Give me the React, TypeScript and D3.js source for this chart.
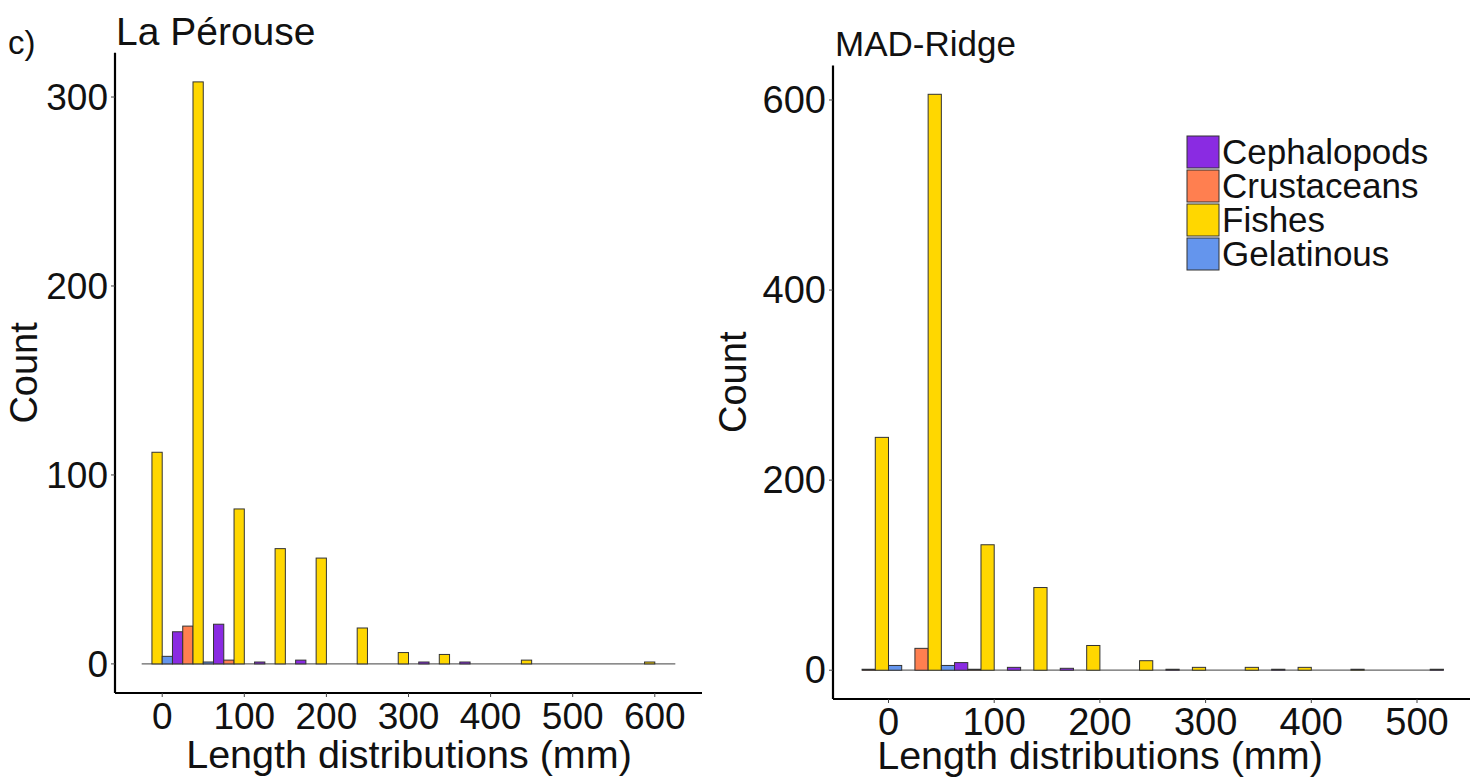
import * as d3 from "d3";

// legend / colour order (alphabetical, as in the legend)
const categories = ["Cephalopods", "Crustaceans", "Fishes", "Gelatinous"];
const colors = ["#8a2be2", "#ff7f50", "#ffd700", "#6495ed"];
// order of the dodged bars inside one bin, as drawn in the picture
const slotOrder = ["Crustaceans", "Fishes", "Gelatinous", "Cephalopods"];

const binWidth = 50;

// La Pérouse, bins centred on 0, 50, ... 600
const binsLP = [0, 50, 100, 150, 200, 250, 300, 350, 400, 450, 500, 550, 600];
const lpCephalopods = [17, 21, 1, 2, 0, 0, 1, 1, 0, 0, 0, 0, 0];
const lpCrustaceans = [0, 20, 2, 0, 0, 0, 0, 0, 0, 0, 0, 0, 0];
const lpFishes = [112, 308, 82, 61, 56, 19, 6, 5, 0, 2, 0, 0, 1];
const lpGelatinous = [4, 1, 0, 0, 0, 0, 0, 0, 0, 0, 0, 0, 0];

// MAD-Ridge, bins centred on 0, 50, ... 500
const binsMR = [0, 50, 100, 150, 200, 250, 300, 350, 400, 450, 500];
const mrCephalopods = [0, 8, 3, 2, 0, 1, 0, 1, 0, 0, 1];
const mrCrustaceans = [1, 23, 1, 0, 0, 0, 0, 0, 0, 0, 0];
const mrFishes = [245, 606, 132, 87, 26, 10, 3, 3, 3, 1, 0];
const mrGelatinous = [5, 5, 0, 0, 0, 0, 0, 0, 0, 0, 0];

const ticksLPx = [0, 100, 200, 300, 400, 500, 600];
const ticksLPy = [0, 100, 200, 300];
const ticksMRx = [0, 100, 200, 300, 400, 500];
const ticksMRy = [0, 200, 400, 600];

const FONT = "'Liberation Sans', Arial, sans-serif";
const color = d3.scaleOrdinal<string, string>().domain(categories).range(colors);

type PanelProps = {
  title: string;
  titleSize: number;
  tickSize: number;
  bins: number[];
  series: Record<string, number[]>;
  xDomain: [number, number];
  xRange: [number, number];
  yDomain: [number, number];
  yRange: [number, number];
  xTicks: number[];
  yTicks: number[];
  titleX: number;
  titleY: number;
  countX: number;
  xTitleX: number;
  xTitleY: number;
};

function Panel(p: PanelProps) {
  const x = d3.scaleLinear().domain(p.xDomain).range(p.xRange);
  const y = d3.scaleLinear().domain(p.yDomain).range(p.yRange);
  const slot = d3
    .scaleBand()
    .domain(slotOrder)
    .range([0, x(binWidth) - x(0)]);
  const x0 = p.xRange[0];
  const yBottom = p.yRange[0];
  const yTop = p.yRange[1];
  const first = p.bins[0] - binWidth / 2;
  const last = p.bins[p.bins.length - 1] + binWidth / 2;

  return (
    <g>
      <text x={p.titleX} y={p.titleY} fontSize={p.titleSize} fontFamily={FONT} fill="#111">
        {p.title}
      </text>
      {/* zero-height bins drawn as the base line */}
      <line x1={x(first)} x2={x(last)} y1={y(0)} y2={y(0)} stroke="#666" strokeWidth={1.2} />
      {p.bins.map((b, i) =>
        slotOrder.map((cat) => {
          const v = p.series[cat][i];
          if (!v) return null;
          const left = x(b - binWidth / 2) + (slot(cat) ?? 0);
          return (
            <rect
              key={cat + b}
              x={left}
              y={y(v)}
              width={slot.bandwidth()}
              height={y(0) - y(v)}
              fill={color(cat)}
              stroke="#333"
              strokeWidth={1}
            />
          );
        })
      )}
      {/* axes */}
      <line x1={x0} x2={p.xRange[1]} y1={yBottom} y2={yBottom} stroke="#000" strokeWidth={2.2} />
      <line x1={x0} x2={x0} y1={yTop} y2={yBottom} stroke="#000" strokeWidth={2.2} />
      {p.xTicks.map((t) => (
        <g key={"xt" + t}>
          <line x1={x(t)} x2={x(t)} y1={yBottom} y2={yBottom + 4} stroke="#444" />
          <text
            x={x(t)}
            y={yBottom + 36}
            textAnchor="middle"
            fontSize={p.tickSize}
            fontFamily={FONT}
            fill="#111"
          >
            {t}
          </text>
        </g>
      ))}
      {p.yTicks.map((t) => (
        <g key={"yt" + t}>
          <line x1={x0 - 4} x2={x0} y1={y(t)} y2={y(t)} stroke="#444" />
          <text
            x={x0 - 7}
            y={y(t) + 13}
            textAnchor="end"
            fontSize={p.tickSize}
            fontFamily={FONT}
            fill="#111"
          >
            {t}
          </text>
        </g>
      ))}
      <text
        x={p.xTitleX}
        y={p.xTitleY}
        textAnchor="middle"
        fontSize={39.5}
        fontFamily={FONT}
        fill="#111"
      >
        Length distributions (mm)
      </text>
      <text
        transform={`translate(${p.countX},${(yTop + yBottom) / 2}) rotate(-90)`}
        textAnchor="middle"
        fontSize={38}
        fontFamily={FONT}
        fill="#111"
      >
        Count
      </text>
    </g>
  );
}

export default function App() {
  return (
    <svg
      width={1470}
      height={780}
      style={{ position: "absolute", left: 0, top: 0, background: "#fff" }}
    >
      <rect width={1470} height={780} fill="#fff" />
      <text x={8} y={54} fontSize={33} fontFamily={FONT} fill="#111">
        c)
      </text>
      <Panel
        title="La Pérouse"
        titleSize={39}
        tickSize={37}
        bins={binsLP}
        series={{
          Cephalopods: lpCephalopods,
          Crustaceans: lpCrustaceans,
          Fishes: lpFishes,
          Gelatinous: lpGelatinous,
        }}
        xDomain={[-57.5, 657.5]}
        xRange={[115, 702]}
        yDomain={[-15.4, 323.4]}
        yRange={[693, 52.8]}
        xTicks={ticksLPx}
        yTicks={ticksLPy}
        titleX={116}
        titleY={45}
        countX={37}
        xTitleX={409}
        xTitleY={768}
      />
      <Panel
        title="MAD-Ridge"
        titleSize={35}
        tickSize={38}
        bins={binsMR}
        series={{
          Cephalopods: mrCephalopods,
          Crustaceans: mrCrustaceans,
          Fishes: mrFishes,
          Gelatinous: mrGelatinous,
        }}
        xDomain={[-52.5, 552.5]}
        xRange={[833, 1472.5]}
        yDomain={[-30.3, 636.3]}
        yRange={[699, 65.5]}
        xTicks={ticksMRx}
        yTicks={ticksMRy}
        titleX={835}
        titleY={56}
        countX={746}
        xTitleX={1100}
        xTitleY={769}
      />
      {/* legend */}
      {categories.map((c, i) => (
        <g key={c} transform={`translate(1187,${136 + i * 34})`}>
          <rect width={32} height={32} fill={color(c)} stroke="#333" strokeWidth={1} />
          <text x={35} y={28} fontSize={35} fontFamily={FONT} fill="#111">
            {c}
          </text>
        </g>
      ))}
    </svg>
  );
}
